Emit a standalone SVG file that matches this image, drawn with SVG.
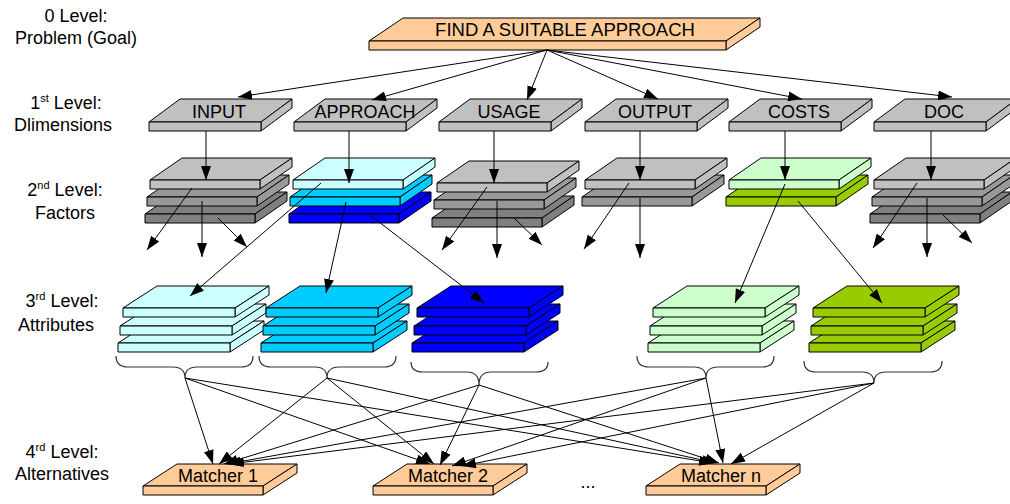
<svg xmlns="http://www.w3.org/2000/svg" xmlns:xlink="http://www.w3.org/1999/xlink" width="1010" height="504" viewBox="0 0 1010 504">
<style>
text{font-family:"Liberation Sans",Arial,sans-serif;font-size:18px;fill:#000;stroke:none}
.lbl{text-anchor:middle}
.sl{stroke:#000;stroke-width:1;stroke-linejoin:round}
.peach{fill:#FFCC99}
.g1{fill:#C0C0C0}
.g2{fill:#999999}
.g3{fill:#808080}
.lc{fill:#CCFFFF}
.cy{fill:#00CCFF}
.bl{fill:#0000FF}
.lg{fill:#CCFFCC}
.gr{fill:#99CC00}
#connectors line{stroke:#000;stroke-width:1;fill:none}
#braces path{stroke:#333;stroke-width:1.2;fill:none}
</style>
<defs>
<marker id="ah" markerUnits="userSpaceOnUse" markerWidth="14" markerHeight="10" refX="14" refY="5" orient="auto">
<path d="M0,0 L14,5 L0,10 z" fill="#000"/>
</marker>
<g id="s1">
<polygon points="0,0 31,-23 143,-23 112,0"/>
<polygon points="112,0 143,-23 143,-14 112,9"/>
<rect x="0" y="0" width="112" height="9"/>
</g>
<g id="s2">
<polygon points="0,0 32,-22 142,-22 110,0"/>
<polygon points="110,0 142,-22 142,-13 110,9"/>
<rect x="0" y="0" width="110" height="9"/>
</g>
<g id="s3">
<polygon points="0,0 34,-22 146,-22 112,0"/>
<polygon points="112,0 146,-22 146,-13 112,9"/>
<rect x="0" y="0" width="112" height="9"/>
</g>
<g id="sm">
<polygon points="0,0 34,-22 154,-22 120,0"/>
<polygon points="120,0 154,-22 154,-13 120,9"/>
<rect x="0" y="0" width="120" height="9"/>
</g>
</defs>

<g id="level-labels">
<text class="lbl" x="76" y="22">0 Level:</text>
<text class="lbl" x="76" y="44">Problem (Goal)</text>
<text class="lbl" x="66" y="109">1<tspan font-size="11" dy="-7">st</tspan><tspan dy="7"> Level:</tspan></text>
<text class="lbl" x="63" y="131">Dlimensions</text>
<text class="lbl" x="65" y="196">2<tspan font-size="11" dy="-7">nd</tspan><tspan dy="7"> Level:</tspan></text>
<text class="lbl" x="65" y="219">Factors</text>
<text class="lbl" x="62" y="307">3<tspan font-size="11" dy="-7">rd</tspan><tspan dy="7"> Level:</tspan></text>
<text class="lbl" x="56" y="331">Attributes</text>
<text class="lbl" x="62" y="458">4<tspan font-size="11" dy="-7">rd</tspan><tspan dy="7"> Level:</tspan></text>
<text class="lbl" x="62" y="480">Alternatives</text>
</g>

<g id="goal">
<g class="sl peach">
<polygon points="369,41 403,18 760,18 726,41"/>
<polygon points="726,41 760,18 760,27 726,50"/>
<rect x="369" y="41" width="357" height="9"/>
</g>
<text class="lbl" x="565" y="36" style="font-size:18.5px">FIND A SUITABLE APPROACH</text>
</g>

<g id="dim-input"><use href="#s1" x="149" y="122" class="sl g1"/><text class="lbl" x="219" y="118">INPUT</text></g>
<g id="dim-approach"><use href="#s1" x="294" y="122" class="sl g1"/><text class="lbl" x="365" y="118">APPROACH</text></g>
<g id="dim-usage"><use href="#s1" x="439" y="122" class="sl g1"/><text class="lbl" x="509" y="118">USAGE</text></g>
<g id="dim-output"><use href="#s1" x="585" y="122" class="sl g1"/><text class="lbl" x="655" y="118">OUTPUT</text></g>
<g id="dim-costs"><use href="#s1" x="729" y="122" class="sl g1"/><text class="lbl" x="799" y="118">COSTS</text></g>
<g id="dim-doc"><use href="#s1" x="874" y="122" class="sl g1"/><text class="lbl" x="944" y="118">DOC</text></g>

<g id="fac-input">
<use href="#s2" x="145" y="214" class="sl g3"/>
<use href="#s2" x="147" y="197" class="sl g2"/>
<use href="#s2" x="150" y="180" class="sl g1"/>
</g>
<g id="fac-approach">
<use href="#s2" x="289" y="214" class="sl bl"/>
<use href="#s2" x="290" y="197" class="sl cy"/>
<use href="#s2" x="293" y="180" class="sl lc"/>
</g>
<g id="fac-usage">
<use href="#s2" x="432" y="218" class="sl g3"/>
<use href="#s2" x="434" y="200" class="sl g2"/>
<use href="#s2" x="437" y="183" class="sl g1"/>
</g>
<g id="fac-output">
<use href="#s2" x="582" y="197" class="sl g2"/>
<use href="#s2" x="585" y="180" class="sl g1"/>
</g>
<g id="fac-costs">
<use href="#s2" x="726" y="197" class="sl gr"/>
<use href="#s2" x="729" y="180" class="sl lg"/>
</g>
<g id="fac-doc">
<use href="#s2" x="870" y="214" class="sl g3"/>
<use href="#s2" x="872" y="197" class="sl g2"/>
<use href="#s2" x="874" y="180" class="sl g1"/>
</g>

<g id="att-1">
<use href="#s3" x="118" y="343" class="sl lc"/>
<use href="#s3" x="120" y="326" class="sl lc"/>
<use href="#s3" x="123" y="308" class="sl lc"/>
</g>
<g id="att-2">
<use href="#s3" x="261" y="343" class="sl cy"/>
<use href="#s3" x="263" y="326" class="sl cy"/>
<use href="#s3" x="266" y="308" class="sl cy"/>
</g>
<g id="att-3">
<use href="#s3" x="412" y="343" class="sl bl"/>
<use href="#s3" x="414" y="326" class="sl bl"/>
<use href="#s3" x="417" y="308" class="sl bl"/>
</g>
<g id="att-4">
<use href="#s3" x="648" y="343" class="sl lg"/>
<use href="#s3" x="650" y="326" class="sl lg"/>
<use href="#s3" x="653" y="308" class="sl lg"/>
</g>
<g id="att-5">
<use href="#s3" x="809" y="343" class="sl gr"/>
<use href="#s3" x="811" y="326" class="sl gr"/>
<use href="#s3" x="813" y="308" class="sl gr"/>
</g>

<g id="braces">
<path d="M116,356 Q116,367 128,367 L173,367 Q185,367 185,378 Q185,367 197,367 L241,367 Q253,367 253,356"/>
<path d="M259,356 Q259,367 271,367 L315,367 Q327,367 327,378 Q327,367 339,367 L384,367 Q396,367 396,356"/>
<path d="M411,362 Q411,372 423,372 L467,372 Q479,372 479,385 Q479,372 491,372 L536,372 Q548,372 548,362"/>
<path d="M637,356 Q637,367 649,367 L694,367 Q706,367 706,378 Q706,367 718,367 L762,367 Q774,367 774,356"/>
<path d="M804,361 Q804,372 816,372 L862,372 Q874,372 874,383 Q874,372 886,372 L930,372 Q942,372 942,361"/>
</g>

<g id="alt-1"><use href="#sm" x="143" y="486" class="sl peach"/><text class="lbl" x="218" y="482">Matcher 1</text></g>
<g id="alt-2"><use href="#sm" x="373" y="486" class="sl peach"/><text class="lbl" x="448" y="482">Matcher 2</text></g>
<g id="alt-n"><use href="#sm" x="646" y="486" class="sl peach"/><text class="lbl" x="721" y="482">Matcher n</text></g>
<text class="lbl" x="588" y="488">...</text>

<g id="connectors">
<line x1="547" y1="50" x2="238" y2="97" marker-end="url(#ah)"/>
<line x1="547" y1="50" x2="372" y2="100" marker-end="url(#ah)"/>
<line x1="547" y1="50" x2="527" y2="100" marker-end="url(#ah)"/>
<line x1="547" y1="50" x2="658" y2="99" marker-end="url(#ah)"/>
<line x1="547" y1="50" x2="802" y2="99" marker-end="url(#ah)"/>
<line x1="547" y1="50" x2="952" y2="97" marker-end="url(#ah)"/>

<line x1="206" y1="131" x2="206" y2="180" marker-end="url(#ah)"/>
<line x1="349" y1="131" x2="349" y2="183" marker-end="url(#ah)"/>
<line x1="494" y1="131" x2="494" y2="183" marker-end="url(#ah)"/>
<line x1="640" y1="131" x2="640" y2="180" marker-end="url(#ah)"/>
<line x1="785" y1="131" x2="785" y2="180" marker-end="url(#ah)"/>
<line x1="931" y1="131" x2="931" y2="180" marker-end="url(#ah)"/>

<line x1="192" y1="188" x2="147" y2="250" marker-end="url(#ah)"/>
<line x1="202" y1="201" x2="202" y2="257" marker-end="url(#ah)"/>
<line x1="218" y1="218" x2="247" y2="247" marker-end="url(#ah)"/>
<line x1="487" y1="187" x2="442" y2="250" marker-end="url(#ah)"/>
<line x1="497" y1="201" x2="497" y2="258" marker-end="url(#ah)"/>
<line x1="513" y1="217" x2="542" y2="245" marker-end="url(#ah)"/>
<line x1="629" y1="183" x2="584" y2="249" marker-end="url(#ah)"/>
<line x1="640" y1="198" x2="640" y2="258" marker-end="url(#ah)"/>
<line x1="917" y1="183" x2="873" y2="248" marker-end="url(#ah)"/>
<line x1="927" y1="198" x2="927" y2="257" marker-end="url(#ah)"/>
<line x1="943" y1="215" x2="972" y2="243" marker-end="url(#ah)"/>

<line x1="321" y1="183" x2="190" y2="296" marker-end="url(#ah)"/>
<line x1="346" y1="202" x2="326" y2="293" marker-end="url(#ah)"/>
<line x1="370" y1="215" x2="484" y2="303" marker-end="url(#ah)"/>
<line x1="785" y1="184" x2="735" y2="303" marker-end="url(#ah)"/>
<line x1="798" y1="201" x2="882" y2="303" marker-end="url(#ah)"/>

<line x1="185" y1="378" x2="213" y2="464" marker-end="url(#ah)"/>
<line x1="185" y1="378" x2="430" y2="464" marker-end="url(#ah)"/>
<line x1="185" y1="378" x2="713" y2="463" marker-end="url(#ah)"/>
<line x1="327" y1="378" x2="219" y2="464" marker-end="url(#ah)"/>
<line x1="327" y1="378" x2="434" y2="464" marker-end="url(#ah)"/>
<line x1="327" y1="378" x2="716" y2="463" marker-end="url(#ah)"/>
<line x1="479" y1="385" x2="224" y2="464" marker-end="url(#ah)"/>
<line x1="479" y1="385" x2="440" y2="465" marker-end="url(#ah)"/>
<line x1="479" y1="385" x2="719" y2="463" marker-end="url(#ah)"/>
<line x1="706" y1="378" x2="227" y2="464" marker-end="url(#ah)"/>
<line x1="706" y1="378" x2="452" y2="466" marker-end="url(#ah)"/>
<line x1="706" y1="378" x2="723" y2="463" marker-end="url(#ah)"/>
<line x1="874" y1="383" x2="230" y2="464" marker-end="url(#ah)"/>
<line x1="874" y1="383" x2="462" y2="466" marker-end="url(#ah)"/>
<line x1="874" y1="383" x2="731" y2="464" marker-end="url(#ah)"/>
</g>
</svg>
